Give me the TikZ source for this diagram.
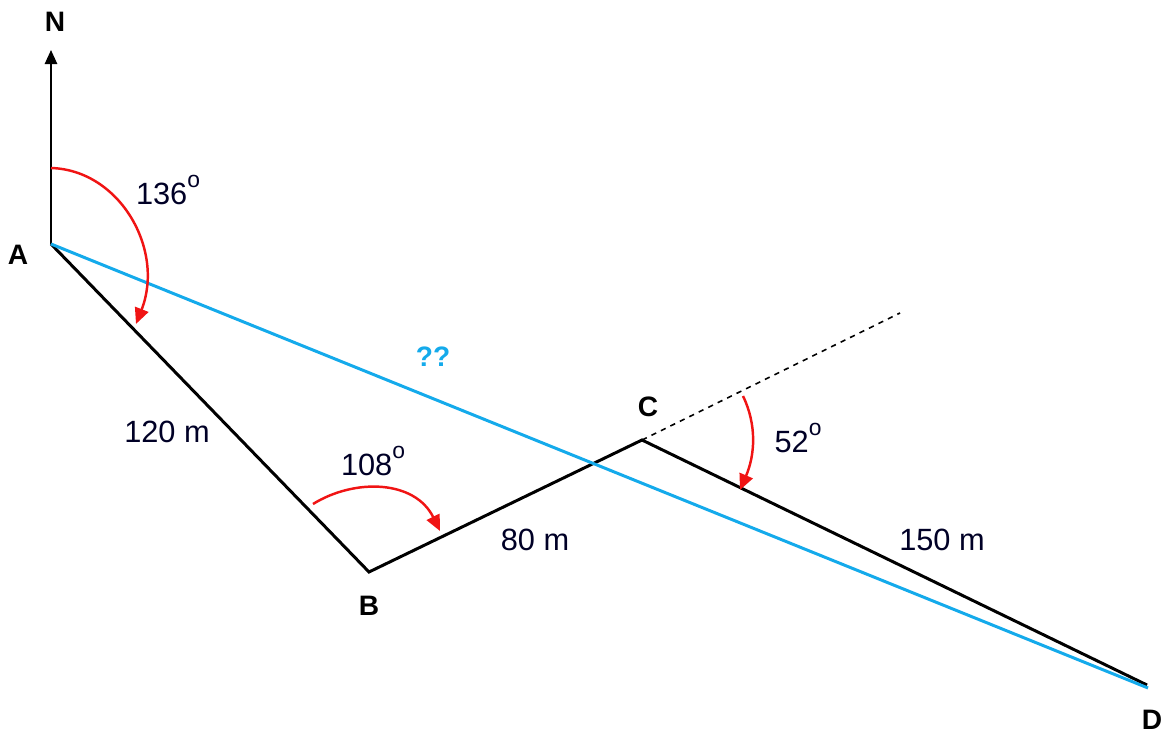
\documentclass[tikz,border=0pt]{standalone}
\usepackage{fontspec}
\setmainfont{Liberation Sans}
\usetikzlibrary{arrows.meta}

\definecolor{lineblue}{RGB}{20,170,235}
\definecolor{arcred}{RGB}{240,20,20}

\newcommand{\degsup}{\raisebox{0.55em}{\fontsize{13}{13}\selectfont o}}

\begin{document}
\begin{tikzpicture}[x=0.02cm,y=-0.02cm]
\useasboundingbox (0,0) rectangle (1163,736);
\tikzset{
  leg/.style={line width=1.7pt,black},
  angarc/.style={line width=1.4pt,arcred,-{Triangle[length=9pt,width=8pt]}},
  pt/.style={font=\fontsize{16}{18}\selectfont\bfseries},
  lbl/.style={font=\fontsize{17.5}{20}\selectfont,text=black!85!blue}
}
\coordinate (A) at (51,244);
\coordinate (B) at (369,572);
\coordinate (C) at (642,440);
\coordinate (D) at (1147,685);
\coordinate (Dend) at (1148,688);
\coordinate (Ntip) at (51,50);
\coordinate (Cext) at (900,313);

% north arrow
\draw [line width=1.1pt,-{Triangle[length=8pt,width=7pt]}] (A) -- (Ntip);
% legs
\draw [leg] (A) -- (B) -- (C) -- (D);
\draw [line width=0.9pt,dashed] (C) -- (Cext);
\draw [line width=1.7pt,lineblue] (A) -- (Dend);

% angle arcs
\draw [angarc] (51,168) .. controls (120,170) and (165,250) .. (136,324);
\draw [angarc] (313,504) .. controls (355,478) and (415,480) .. (440,531);
\draw [angarc] (743,396) .. controls (757,425) and (755,455) .. (740,490);

% labels
\node[pt] (labN) at (55,22) {N};
\node[pt] (labA) at (18,255) {A};
\node[pt] (labB) at (369,606) {B};
\node[pt] (labC) at (648,407) {C};
\node[pt] (labD) at (1152,720) {D};
\node[pt,text=lineblue] (labq) at (433,357) {??};
\node[lbl] (l136) at (168,190) {136\degsup};
\node[lbl] (l108) at (373,461) {108\degsup};
\node[lbl] (l52) at (798,438) {52\degsup};
\node[lbl] (l120) at (167,432) {120 m};
\node[lbl] (l80) at (535,540) {80 m};
\node[lbl] (l150) at (942,540) {150 m};
\end{tikzpicture}
\end{document}
